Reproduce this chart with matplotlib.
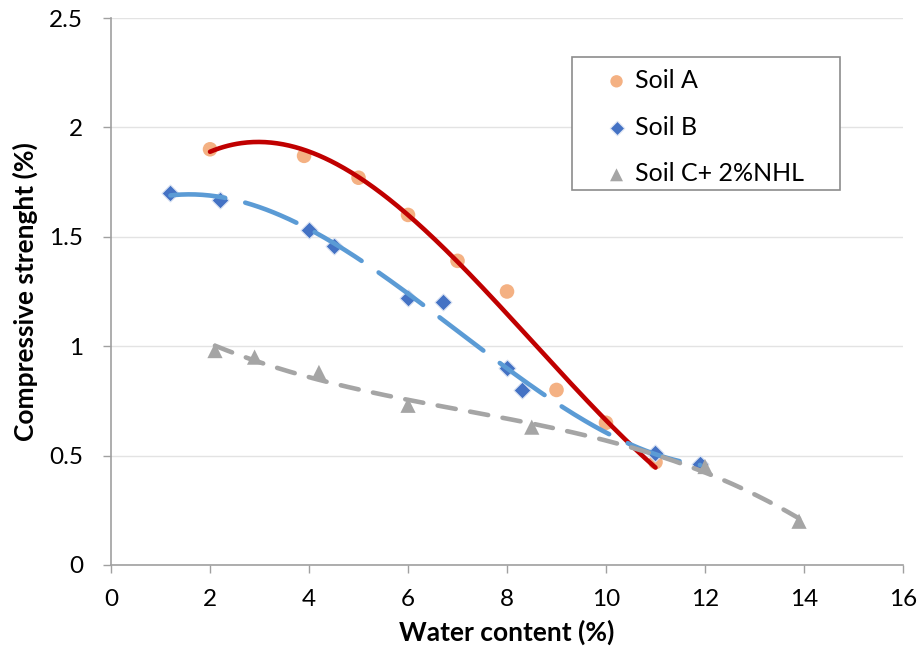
import numpy as np
import matplotlib
matplotlib.use("Agg")
import matplotlib.pyplot as plt
from matplotlib.patches import Rectangle

plt.rcParams['font.family'] = ['Lato', 'DejaVu Sans']

# Data
soil_a_x = [2.0, 3.9, 5.0, 6.0, 7.0, 8.0, 9.0, 10.0, 11.0]
soil_a_y = [1.90, 1.87, 1.77, 1.60, 1.39, 1.25, 0.80, 0.65, 0.47]

soil_b_x = [1.2, 2.2, 4.0, 4.5, 6.0, 6.7, 8.0, 8.3, 11.0, 11.9]
soil_b_y = [1.70, 1.67, 1.53, 1.46, 1.22, 1.20, 0.90, 0.80, 0.51, 0.46]

soil_c_x = [2.1, 2.9, 4.2, 6.0, 8.5, 12.0, 13.9]
soil_c_y = [0.98, 0.95, 0.88, 0.73, 0.63, 0.45, 0.20]

labels = ["Soil A", "Soil B", "Soil C+ 2%NHL"]
x_ticks = [0, 2, 4, 6, 8, 10, 12, 14, 16]
y_ticks = [0, 0.5, 1, 1.5, 2, 2.5]
y_tick_labels = ['0', '0.5', '1', '1.5', '2', '2.5']

fig = plt.figure(figsize=(9.2, 6.5), dpi=100)
ax = fig.add_axes([0.1207, 0.1308, 0.8608, 0.8415])

def trend(x, y, deg):
    c = np.polyfit(x, y, deg)
    xs = np.linspace(min(x), max(x), 300)
    return xs, np.polyval(c, xs)

# markers
ax.scatter(soil_a_x, soil_a_y, marker='o', s=110, color='#F4B183', zorder=3, label=labels[0], edgecolors='none')
ax.scatter(soil_b_x, soil_b_y, marker='D', s=75, color='#4472C4', zorder=3, label=labels[1], edgecolors='#DAE3F3', linewidths=0.8)
ax.scatter(soil_c_x, soil_c_y, marker='^', s=120, color='#A5A5A5', zorder=3, label=labels[2], edgecolors='none')

# trend lines
xs, ys = trend(soil_a_x, soil_a_y, 3)
ax.plot(xs, ys, color='#C00000', lw=3.3, zorder=4, solid_capstyle='round')
xs, ys = trend(soil_b_x, soil_b_y, 3)
ax.plot(xs, ys, color='#5B9BD5', lw=3.3, zorder=4, dashes=(12, 4.5), dash_capstyle='round')
xs, ys = trend(soil_c_x, soil_c_y, 3)
ax.plot(xs, ys, color='#A5A5A5', lw=3.3, zorder=4, dashes=(4, 3.2), dash_capstyle='round')

ax.set_xlim(0, 16)
ax.set_ylim(0, 2.5)
ax.set_xticks(x_ticks)
ax.set_yticks(y_ticks)
ax.set_xticklabels([str(t) for t in x_ticks])
ax.set_yticklabels(y_tick_labels)
ax.tick_params(axis='both', labelsize=17.5, color='#A0A0A0', length=6, width=1, direction='out')
ax.tick_params(axis='x', pad=11)
ax.tick_params(axis='y', pad=14)

ax.grid(axis='y', color='#E3E3E3', lw=1)
ax.set_axisbelow(True)
for s in ['top', 'right']:
    ax.spines[s].set_visible(False)
for s in ['left', 'bottom']:
    ax.spines[s].set_color('#A0A0A0')
    ax.spines[s].set_linewidth(1.2)

ax.set_xlabel('Water content (%)', fontsize=19, fontweight='bold', labelpad=7)
ax.set_ylabel('Compressive strenght (%)', fontsize=19, fontweight='bold', labelpad=8)

# legend box
ax.add_patch(Rectangle((0.582, 0.686), 0.338, 0.243, transform=ax.transAxes,
                       facecolor='white', edgecolor='#8C8C8C', lw=1.2, zorder=5))
leg = ax.legend(loc='upper left', bbox_to_anchor=(0.6225, 0.907), fontsize=18, frameon=False,
                handletextpad=0.25, borderpad=0, labelspacing=0.95, handlelength=1.0,
                borderaxespad=0, markerscale=0.85)
leg.set_zorder(6)

fig.savefig('out.png', dpi=100)
